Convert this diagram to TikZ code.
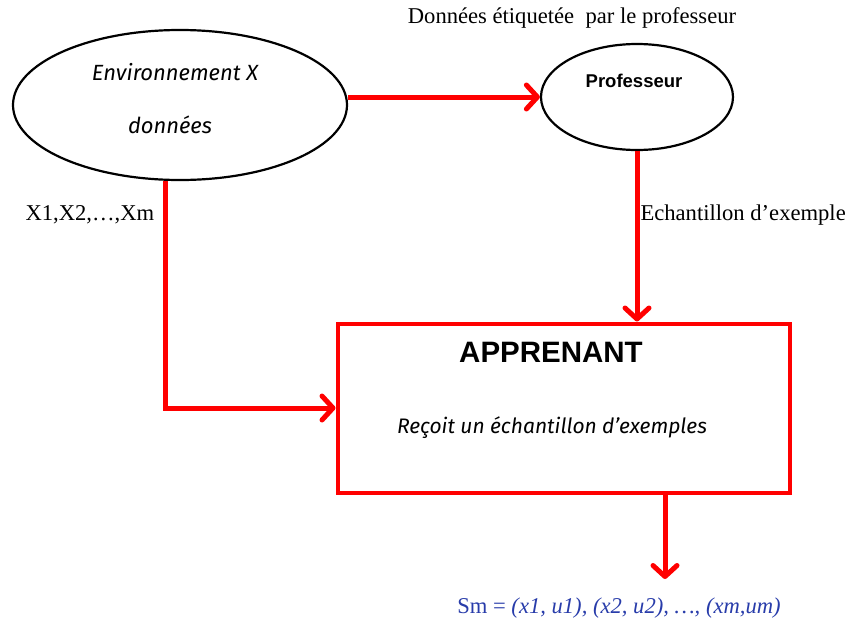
\documentclass[tikz,border=0pt]{standalone}
\usepackage{fontspec}
\setmainfont{Liberation Serif}
\newfontfamily\arialfont{Liberation Sans}
\newfontfamily\mainfont{Fira Sans}
\usetikzlibrary{shapes.geometric,arrows.meta}
\definecolor{flowred}{RGB}{255,0,0}
\definecolor{setblue}{RGB}{40,60,170}
\tikzset{
  flow/.style={draw=flowred, line width=5pt,
    -{Straight Barb[length=11pt,width=24pt,line cap=round,line join=round]}},
  blob/.style={draw, ellipse, line width=2.2pt, inner sep=0pt},
  script/.style={font=\mainfont\itshape\fontsize{22}{26}\selectfont},
  plain/.style={font=\fontsize{22.6}{26}\selectfont}
}
\begin{document}
\begin{tikzpicture}[x=1pt,y=-1pt]
        \useasboundingbox (0,0) rectangle (846,624);
        \node[blob, minimum width=334pt, minimum height=150pt] (env) at (180,105) {};
        \node[script] (envtitle) at (175,72) {Environnement X};
        \node[script] (envdata) at (170,125) {données};
        \node[blob, minimum width=192pt, minimum height=106pt] (prof) at (637,97) {};
        \node[font=\arialfont\bfseries\fontsize{18.5}{22}\selectfont] (proftitle) at (634,81) {Professeur};
        \node[draw=flowred, line width=4pt, minimum width=452pt, minimum height=169pt] (apprenant) at (563.5,408) {};
        \node[font=\arialfont\bfseries\fontsize{29.5}{34}\selectfont] (apptitle) at (551,352) {APPRENANT};
        \node[script, font=\mainfont\itshape\fontsize{21}{25}\selectfont] (apptext) at (552,428) {Reçoit un échantillon d’exemples};
        \node[plain] (labeltop) at (572,18) {Données étiquetée\ \ par le professeur};
        \node[plain, anchor=west] (labelx) at (22,215) {X1,X2,\ldots,Xm};
        \node[plain, anchor=west] (labelech) at (637,215) {Echantillon d’exemple};
        \coordinate (out) at (665,579);
        \node[text=setblue, font=\fontsize{22.6}{26}\selectfont] (sample) at (619,608)
            {Sm = \textit{(x1, u1), (x2, u2), \ldots, (xm,um)}};
        \draw[flow] (env.east |- prof.west) -- (prof.west);
        \draw[flow] (prof.south) -- (prof.south |- apprenant.north);
        \draw[flow] ([xshift=-15pt]env.south) |- (apprenant.west);
        \draw[flow] (out |- apprenant.south) -- (out);
    \end{tikzpicture}
\end{document}
